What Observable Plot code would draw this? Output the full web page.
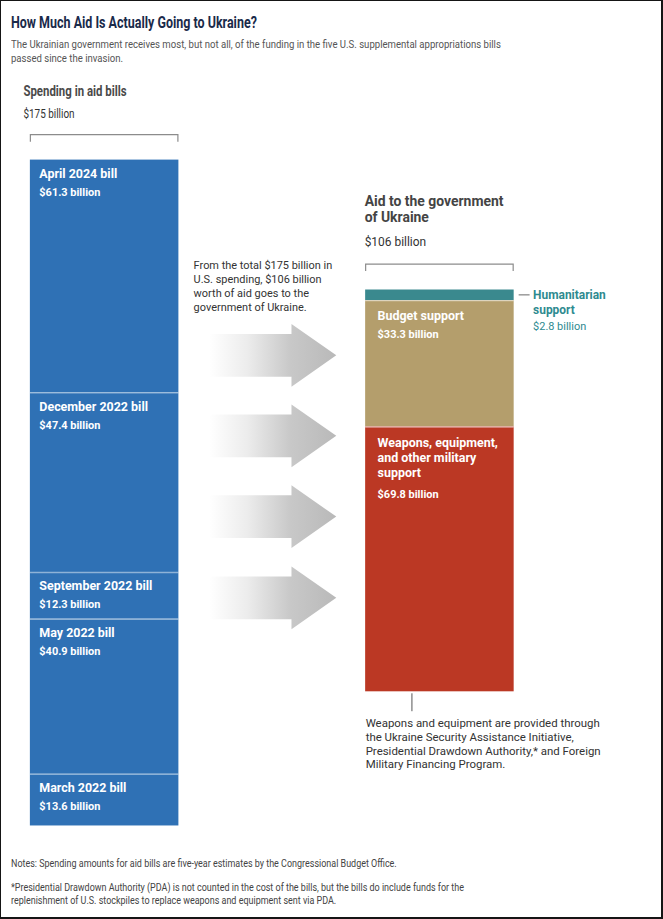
<!DOCTYPE html>
<html>
<head>
<meta charset="utf-8">
<script src="https://cdn.jsdelivr.net/npm/d3@7"></script>
<script src="https://cdn.jsdelivr.net/npm/@observablehq/plot@0.6"></script>
<style>
  html, body { margin: 0; padding: 0; background: #fff; }
  #page { position: relative; width: 663px; height: 919px; box-sizing: border-box;
          border: solid #151515; border-width: 1px 2px 2px 1px; overflow: hidden;
          font-family: Roboto, "Noto Sans", sans-serif; }
  .t { position: absolute; left: 10px; white-space: pre; transform-origin: 0 0; }
  #title { top: 12px; font-size: 16px; line-height: 19px; font-weight: 700; color: #1a2a4a; transform: scaleX(0.78); }
  #sub { top: 37px; font-size: 11px; line-height: 14px; color: #555; transform: scaleX(0.87); }
  #note1 { top: 856px; font-size: 11.5px; line-height: 13px; color: #444; transform: scaleX(0.78); }
  #note2 { top: 880px; font-size: 11.5px; line-height: 13px; color: #444; transform: scaleX(0.78); }
  #chart { position: absolute; left: 0; top: 69px; }
</style>
</head>
<body>
<div id="page">
  <div class="t" id="title"></div>
  <div class="t" id="sub"></div>
  <div id="chart"></div>
  <div class="t" id="note1"></div>
  <div class="t" id="note2"></div>
</div>
<script>
// ---- Texts ----
const titleText = "How Much Aid Is Actually Going to Ukraine?";
const subtitleLines = [
  "The Ukrainian government receives most, but not all, of the funding in the five U.S. supplemental appropriations bills",
  "passed since the invasion."
];
const noteLines = ["Notes: Spending amounts for aid bills are five-year estimates by the Congressional Budget Office."];
const footLines = [
  "*Presidential Drawdown Authority (PDA) is not counted in the cost of the bills, but the bills do include funds for the",
  "replenishment of U.S. stockpiles to replace weapons and equipment sent via PDA."
];

// ---- Data ----
const columns = ["bills", "govt"];
const billNames = ["April 2024 bill", "December 2022 bill", "September 2022 bill", "May 2022 bill", "March 2022 bill"];
const billValues = [61.3, 47.4, 12.3, 40.9, 13.6];
const totalBills = 175;

const aidNames = ["Humanitarian\nsupport", "Budget support", "Weapons, equipment,\nand other military\nsupport"];
const aidValues = [2.8, 33.3, 69.8];
const aidColors = ["#3a898e", "#b49e6c", "#bb3824"];
const totalAid = 106;

const headerBills = "Spending in aid bills";
const headerAid = "Aid to the government\nof Ukraine";
const flowNote = "From the total $175 billion in\nU.S. spending, $106 billion\nworth of aid goes to the\ngovernment of Ukraine.";
const weaponsNote = "Weapons and equipment are provided through\nthe Ukraine Security Assistance Initiative,\nPresidential Drawdown Authority,* and Foreign\nMilitary Financing Program.";

// ---- Layout constants (not data) ----
const aidOffset = 34.24;                     // where the aid bar starts along the shared $ scale
const arrowRows = [51.6, 72.8, 94.1, 115.5]; // arrow centre rows along the shared $ scale
const xRange = [29, 515];
const pInner = 0.557;
const xb = d3.scaleBand(columns, xRange).paddingInner(pInner).paddingOuter(0).align(0.5);
const bw = xb.bandwidth();
const fmt = v => `$${v} billion`;

// ---- Derived tables ----
const billEnds = d3.cumsum(billValues);
const bills = billNames.map((name, i) => ({name, value: billValues[i], y1: i ? billEnds[i - 1] : 0, y2: billEnds[i]}));
const aidEnds = d3.cumsum(aidValues);
const aid = aidNames.map((name, i) => ({name, value: aidValues[i], color: aidColors[i],
  y1: aidOffset + (i ? aidEnds[i - 1] : 0), y2: aidOffset + aidEnds[i]}));
const aidSum = d3.sum(aidValues);

document.getElementById("title").textContent = titleText;
document.getElementById("sub").textContent = subtitleLines.join("\n");
document.getElementById("note1").textContent = noteLines.join("\n");
document.getElementById("note2").textContent = footLines.join("\n");

// ---- Decorations drawn with the plot's scales ----
function decor(index, scales) {
  const X = scales.x, Y = scales.y;
  const L = X("bills"), R = X("govt");
  const g = d3.create("svg:g");
  const grad = g.append("defs").append("linearGradient").attr("id", "arrowGrad")
    .attr("x1", 0).attr("x2", 1).attr("y1", 0).attr("y2", 0);
  [[0, "#ffffff"], [0.3, "#ececec"], [0.64, "#c8c8c8"], [1, "#b9b9b9"]]
    .forEach(([o, c]) => grad.append("stop").attr("offset", o).attr("stop-color", c));
  const x0 = L + bw + 31, xh = R - 74, xt = R - 29;
  for (const r of arrowRows) {
    const c = Y(r);
    g.append("path")
      .attr("d", `M${x0},${c - 21.5}H${xh}V${c - 31.5}L${xt},${c}L${xh},${c + 31.5}V${c + 21.5}H${x0}Z`)
      .attr("fill", "url(#arrowGrad)");
  }
  const bracket = (x, yTop) => g.append("path")
    .attr("d", `M${x + 0.5},${yTop + 7}V${yTop}H${x + bw - 0.5}V${yTop + 7}`)
    .attr("fill", "none").attr("stroke", "#8c8c8c").attr("stroke-width", 1.2);
  bracket(L, Y(0) - 25);
  bracket(R, Y(aidOffset) - 25.5);
  const hy = Y(aidOffset + aidValues[0] / 2);
  g.append("line").attr("x1", R + bw + 5).attr("x2", R + bw + 16).attr("y1", hy).attr("y2", hy)
    .attr("stroke", "#9a9a9a").attr("stroke-width", 1.5);
  const by = Y(aidOffset + aidSum);
  g.append("line").attr("x1", R + 47).attr("x2", R + 47).attr("y1", by + 2).attr("y2", by + 20)
    .attr("stroke", "#555").attr("stroke-width", 1);
  return g.node();
}

const left = () => "bills", right = () => "govt";

const chart = Plot.plot({
  width: 663,
  height: 780,
  x: {type: "band", domain: columns, range: xRange, paddingInner: pInner, paddingOuter: 0, align: 0.5, round: false, axis: null},
  y: {domain: [0, totalBills], range: [90, 757], axis: null},
  style: {fontFamily: "Roboto, 'Noto Sans', sans-serif", background: "transparent", overflow: "visible"},
  marks: [
    decor,
    Plot.barY(bills, {x: left, y1: "y1", y2: "y2", fill: "#2f71b5"}),
    Plot.barY(aid, {x: right, y1: "y1", y2: "y2", fill: "color"}),
    Plot.tickY(billEnds.slice(0, -1), {x: left, y: d => d, stroke: "#ffffff", strokeOpacity: 0.45, strokeWidth: 1.5}),
    Plot.tickY(aid.slice(0, -1), {x: right, y: "y2", stroke: "#ffffff", strokeOpacity: 0.5, strokeWidth: 1.5}),

    // headers
    Plot.text([headerBills], {x: left, y: () => 0, text: d => d, dx: -bw / 2 - 7, dy: -64, textAnchor: "start",
      lineAnchor: "bottom", fontWeight: 700, fontSize: 14, fill: "#4a4a4a"}),
    Plot.text([totalBills], {x: left, y: () => 0, text: d => fmt(d), dx: -bw / 2 - 7, dy: -42, textAnchor: "start",
      lineAnchor: "bottom", fontSize: 12.5, fill: "#333"}),
    Plot.text([headerAid], {x: right, y: () => aidOffset, text: d => d, dx: -bw / 2 - 1, dy: -68.5, textAnchor: "start",
      lineAnchor: "bottom", lineHeight: 1.12, fontWeight: 700, fontSize: 14, fill: "#444"}),
    Plot.text([totalAid], {x: right, y: () => aidOffset, text: d => fmt(d), dx: -bw / 2 - 1, dy: -44.5, textAnchor: "start",
      lineAnchor: "bottom", fontSize: 12, fill: "#333"}),

    // left bar labels
    Plot.text(bills, {x: left, y: "y1", text: "name", dx: -bw / 2 + 9, dy: 18, textAnchor: "start",
      lineAnchor: "bottom", fontWeight: 700, fontSize: 12.5, fill: "white"}),
    Plot.text(bills, {x: left, y: "y1", text: d => fmt(d.value), dx: -bw / 2 + 9, dy: 36, textAnchor: "start",
      lineAnchor: "bottom", fontWeight: 700, fontSize: 11, fill: "white"}),

    // flow note
    Plot.text([flowNote], {x: left, y: () => 0, text: d => d, dx: -bw / 2 + 164, dy: 152, textAnchor: "start",
      lineAnchor: "bottom", lineHeight: 1.3, fontSize: 11, fill: "#333"}),

    // right bar labels
    Plot.text(aid.slice(1), {x: right, y: "y1", text: "name", dx: -bw / 2 + 12, dy: 9, textAnchor: "start",
      lineAnchor: "top", lineHeight: 1.22, fontWeight: 700, fontSize: 12.5, fill: "white"}),
    Plot.text(aid.slice(1, 2), {x: right, y: "y1", text: d => fmt(d.value), dx: -bw / 2 + 12, dy: 38, textAnchor: "start",
      lineAnchor: "bottom", fontWeight: 700, fontSize: 11, fill: "white"}),
    Plot.text(aid.slice(2), {x: right, y: "y1", text: d => fmt(d.value), dx: -bw / 2 + 12, dy: 71, textAnchor: "start",
      lineAnchor: "bottom", fontWeight: 700, fontSize: 11, fill: "white"}),

    // humanitarian callout
    Plot.text(aid.slice(0, 1), {x: right, y: d => (d.y1 + d.y2) / 2, text: "name", dx: bw / 2 + 19, dy: 19, textAnchor: "start",
      lineAnchor: "bottom", lineHeight: 1.25, fontWeight: 700, fontSize: 12, fill: "#2e8a90"}),
    Plot.text(aid.slice(0, 1), {x: right, y: d => (d.y1 + d.y2) / 2, text: d => fmt(d.value), dx: bw / 2 + 19, dy: 35, textAnchor: "start",
      lineAnchor: "bottom", fontSize: 11, fill: "#2e8a90"}),

    // weapons note
    Plot.text([weaponsNote], {x: right, y: () => aidOffset + aidSum, text: d => d, dx: -bw / 2, dy: 77, textAnchor: "start",
      lineAnchor: "bottom", lineHeight: 1.22, fontSize: 11.5, fill: "#333"})
  ]
});

// narrower (condensed) look for the left column header, as in the original
const condense = new Map([[headerBills, 0.82], [fmt(totalBills), 0.8]]);
chart.querySelectorAll("text").forEach(t => {
  const k = condense.get(t.textContent);
  if (k) t.setAttribute("transform", (t.getAttribute("transform") || "") + ` scale(${k},1)`);
});

document.getElementById("chart").appendChild(chart);
</script>
</body>
</html>
